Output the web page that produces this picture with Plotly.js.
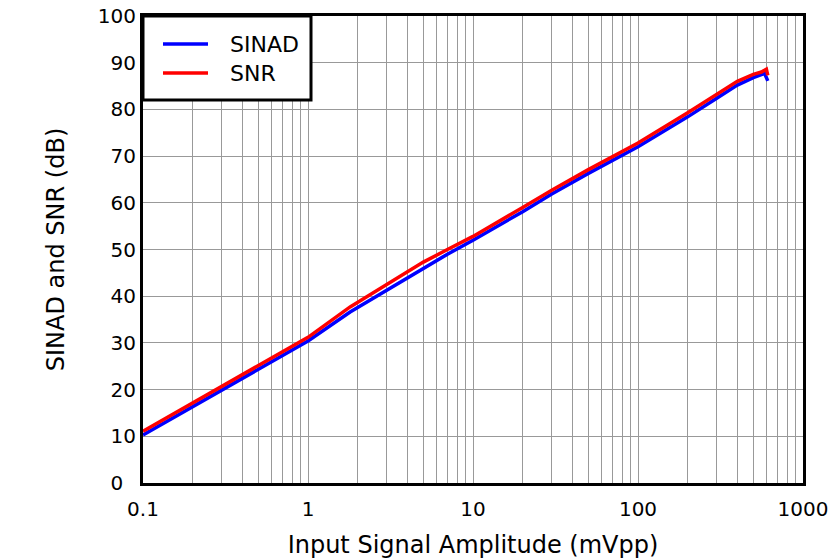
<!DOCTYPE html>
<html>
<head>
<meta charset="utf-8">
<script src="https://cdn.plot.ly/plotly-3.0.1.min.js"></script>
<style>html,body{margin:0;padding:0;background:#fff;}#chart{width:839px;height:559px;}</style>
</head>
<body>
<div id="chart"></div>
<script>
var sinadX = [0.1, 0.2, 0.3, 0.5, 1, 1.8, 3, 5, 7, 10, 20, 30, 50, 100, 200, 300, 400, 500, 560, 585, 612];
var sinadY = [10.3, 16.3, 19.8, 24.3, 30.4, 36.6, 41.3, 46.0, 49.0, 52.0, 58.1, 61.9, 66.3, 72.0, 78.4, 82.4, 85.2, 86.8, 87.4, 87.7, 86.1];
var snrX = [0.1, 0.2, 0.3, 0.5, 1, 1.8, 3, 5, 7, 10, 20, 30, 50, 100, 200, 300, 400, 500, 560, 600, 612];
var snrY = [11.1, 17.2, 20.7, 25.1, 31.2, 37.7, 42.5, 47.3, 50.0, 52.8, 59.0, 62.7, 67.1, 72.8, 79.3, 83.1, 86.0, 87.5, 88.0, 88.6, 87.3];
var seriesNames = ["SINAD", "SNR"];
var seriesColors = ["#0000FF", "#FF0000"];
var xTickVals = [0.1, 1, 10, 100, 1000];
var xTickText = ["0.1", "1", "10", "100", "1000"];
var yTickVals = [0, 10, 20, 30, 40, 50, 60, 70, 80, 90, 100];
var yTickText = ["0\u00a0\u00a0", "10", "20", "30", "40", "50", "60", "70", "80", "90", "100"];

var font = "DejaVu Sans, Liberation Sans, Arial, sans-serif";
var traces = [
  {x: sinadX, y: sinadY, type: "scatter", mode: "lines", name: seriesNames[0],
   line: {color: seriesColors[0], width: 3.5}},
  {x: snrX, y: snrY, type: "scatter", mode: "lines", name: seriesNames[1],
   line: {color: seriesColors[1], width: 3.5}}
];

// manual legend (paper coordinates relative to plot area)
var W = 660, H = 467;
function px(v) { return v / W; }
function py(v) { return 1 - v / H; }
var shapes = [
  {type: "rect", xref: "paper", yref: "paper", x0: 0, x1: px(168), y0: py(84), y1: 1,
   line: {color: "#000", width: 3}, fillcolor: "#fff", layer: "above"}
];
var annotations = [];
seriesNames.forEach(function (n, i) {
  var yy = py(28 + i * 29);
  shapes.push({type: "line", xref: "paper", yref: "paper", x0: px(20), x1: px(65), y0: yy, y1: yy,
               line: {color: seriesColors[i], width: 3.5}, layer: "above"});
  annotations.push({xref: "paper", yref: "paper", x: px(85), y: yy, xanchor: "left", yanchor: "middle",
                    text: n, showarrow: false, font: {family: font, size: 22, color: "#000"}});
});

var layout = {
  width: 839, height: 559,
  margin: {l: 143, r: 36, t: 16, b: 76},
  paper_bgcolor: "#fff", plot_bgcolor: "#fff",
  font: {family: font, color: "#000", size: 20},
  showlegend: false,
  shapes: shapes,
  annotations: annotations,
  xaxis: {type: "log", range: [-1, 3], automargin: false,
          tickvals: xTickVals, ticktext: xTickText, ticks: "",
          ticklabelstandoff: 6,
          showgrid: true, gridcolor: "#999", gridwidth: 1,
          minor: {showgrid: true, gridcolor: "#999", gridwidth: 1, dtick: "D1", ticks: ""},
          showline: true, linecolor: "#000", linewidth: 3, mirror: true,
          zeroline: false,
          tickfont: {family: font, size: 20, color: "#000"},
          title: {text: "Input Signal Amplitude (mVpp)", font: {family: font, size: 24, color: "#000"}, standoff: 17}},
  yaxis: {range: [0, 100], automargin: false, tickvals: yTickVals, ticktext: yTickText, ticks: "",
          showgrid: true, gridcolor: "#999", gridwidth: 1,
          showline: true, linecolor: "#000", linewidth: 3, mirror: true,
          zeroline: false,
          tickfont: {family: font, size: 20, color: "#000"},
          title: {text: "SINAD and SNR (dB)", font: {family: font, size: 24, color: "#000"}, standoff: 27}}
};
Plotly.newPlot("chart", traces, layout, {displayModeBar: false, staticPlot: true});
</script>
</body>
</html>
